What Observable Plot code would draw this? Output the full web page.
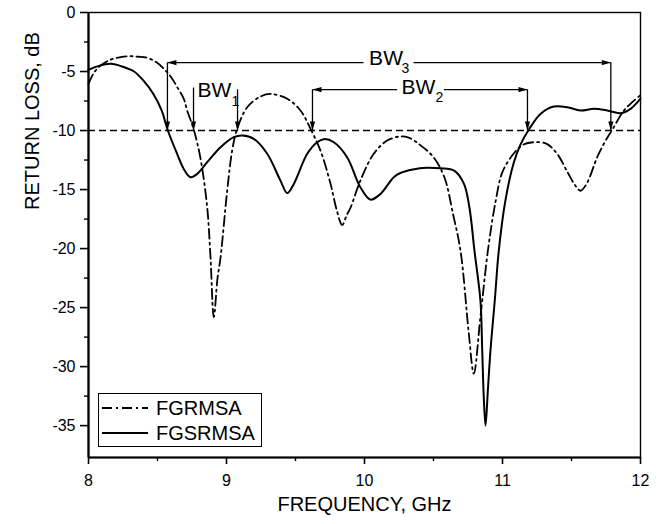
<!DOCTYPE html>
<html><head><meta charset="utf-8">
<script src="https://cdn.jsdelivr.net/npm/d3@7"></script>
<script src="https://cdn.jsdelivr.net/npm/@observablehq/plot@0.6"></script>
<style>
html,body{margin:0;padding:0;background:#fff;}
#wrap{position:relative;width:659px;height:524px;font-family:"Liberation Sans",Arial,sans-serif;}
#legend{position:absolute;left:98px;top:393px;width:162px;height:52px;border:1.3px solid #000;background:#fff;}
.row{position:absolute;left:0;height:24px;display:flex;align-items:center;font-size:20px;color:#000;}
.row svg{margin-left:3px;margin-right:8px;}
</style></head><body><div id="wrap"></div>
<script>
// ---- data ----
const seriesNames = ["FGRMSA", "FGSRMSA"];
const seriesDash = ["10,4,2,4", null];

const fgrmsaX = [8.0, 8.04, 8.087, 8.16, 8.232, 8.30, 8.36, 8.425, 8.49, 8.546, 8.60, 8.643, 8.69, 8.715, 8.762, 8.81, 8.86, 8.884, 8.908, 8.935, 8.957, 9.005, 9.041, 9.077, 9.15, 9.246, 9.319, 9.44, 9.536, 9.609, 9.681, 9.754, 9.80, 9.838, 9.87, 9.90, 9.97, 10.067, 10.164, 10.26, 10.32, 10.40, 10.50, 10.58, 10.64, 10.696, 10.756, 10.792, 10.84, 10.894, 10.95, 11.0, 11.08, 11.15, 11.227, 11.32, 11.396, 11.47, 11.53, 11.565, 11.61, 11.686, 11.74, 11.795, 11.88, 11.94, 12.0];
const fgrmsaY = [-6.04, -5.1, -4.5, -4.0, -3.79, -3.7, -3.75, -3.84, -4.2, -4.77, -5.5, -6.33, -7.3, -8.3, -9.9, -12.26, -16.5, -20.74, -25.8, -22.5, -20.74, -15.1, -11.7, -9.86, -8.03, -7.12, -6.9, -7.31, -8.3, -9.86, -11.7, -14.52, -16.8, -18.0, -17.2, -16.5, -14.24, -11.97, -10.85, -10.5, -10.6, -11.2, -12.26, -14.0, -17.0, -20.2, -27.2, -30.6, -25.8, -20.2, -16.0, -13.5, -11.97, -11.2, -10.99, -11.13, -11.97, -13.5, -14.7, -15.1, -14.5, -12.26, -11.0, -9.94, -8.3, -7.6, -7.0];

const fgsrmsaX = [8.0, 8.08, 8.16, 8.25, 8.33, 8.40, 8.47, 8.53, 8.575, 8.643, 8.69, 8.739, 8.788, 8.86, 8.957, 9.053, 9.114, 9.198, 9.295, 9.391, 9.44, 9.488, 9.585, 9.657, 9.705, 9.778, 9.874, 9.97, 10.043, 10.116, 10.212, 10.26, 10.35, 10.45, 10.55, 10.65, 10.72, 10.76, 10.797, 10.84, 10.853, 10.865, 10.877, 10.894, 10.913, 10.944, 10.973, 11.02, 11.08, 11.13, 11.19, 11.275, 11.372, 11.469, 11.565, 11.662, 11.759, 11.855, 11.928, 12.0];
const fgsrmsaY = [-4.86, -4.5, -4.35, -4.6, -5.0, -5.8, -6.9, -8.3, -10.0, -12.0, -13.25, -13.95, -13.67, -12.68, -11.41, -10.56, -10.42, -10.7, -11.97, -14.24, -15.3, -14.52, -11.97, -10.99, -10.73, -10.99, -12.26, -14.8, -15.85, -15.37, -13.95, -13.6, -13.3, -13.15, -13.2, -13.4, -14.5, -16.5, -20.2, -24.4, -28.6, -32.8, -35.0, -32.0, -28.6, -24.4, -20.2, -16.0, -12.8, -11.2, -9.94, -8.59, -7.97, -8.02, -8.3, -8.16, -8.3, -8.53, -8.16, -7.3];

const xTicks = [8, 9, 10, 11, 12];
const xMinor = [8.5, 9.5, 10.5, 11.5];
const yTicks = [0, -5, -10, -15, -20, -25, -30, -35];
const yMinor = [-2.5, -7.5, -12.5, -17.5, -22.5, -27.5, -32.5];
const xDomain = [8, 12];
const yDomain = [-37.7, 0];
const refLevel = -10;

// bandwidth annotation arrows (head at x2,y2)
const bwArrows = [
  {x1: 9.993, y1: -4.24, x2: 8.572, y2: -4.24},
  {x1: 8.572, y1: -4.24, x2: 8.572, y2: -10},
  {x1: 10.355, y1: -4.24, x2: 11.785, y2: -4.24},
  {x1: 11.785, y1: -4.24, x2: 11.785, y2: -10},
  {x1: 10.237, y1: -6.53, x2: 9.623, y2: -6.53},
  {x1: 9.623, y1: -6.53, x2: 9.623, y2: -10},
  {x1: 10.575, y1: -6.53, x2: 11.181, y2: -6.53},
  {x1: 11.181, y1: -6.53, x2: 11.181, y2: -10},
  {x1: 8.761, y1: -6.36, x2: 8.761, y2: -10},
  {x1: 9.08, y1: -6.5, x2: 9.08, y2: -10}
];
const bwLabels = [
  {x: 10.156, y: -3.9, t: "BW"},
  {x: 10.39, y: -6.3, t: "BW"},
  {x: 8.913, y: -6.6, t: "BW"}
];
const bwSubs = [
  {x: 10.297, y: -4.75, t: "3"},
  {x: 10.543, y: -7.18, t: "2"},
  {x: 9.065, y: -7.53, t: "1"}
];

const fgrmsa = fgrmsaX.map((x, i) => ({x, y: fgrmsaY[i]}));
const fgsrmsa = fgsrmsaX.map((x, i) => ({x, y: fgsrmsaY[i]}));
const heads = bwArrows.map(a => ({
  x: a.x2, y: a.y2,
  rot: a.x2 > a.x1 ? 90 : a.x2 < a.x1 ? -90 : (a.y2 < a.y1 ? 180 : 0)
}));
// narrow filled arrowhead, tip at the origin, pointing up
const arrowHead = {draw(ctx) { ctx.moveTo(0, 0); ctx.lineTo(2.6, 9); ctx.lineTo(-2.6, 9); ctx.closePath(); }};
const fmtY = d => d === 0 ? "0" : "-" + Math.abs(d);

const font = "'Liberation Sans', Arial, sans-serif";
const chart = Plot.plot({
  width: 659, height: 524,
  marginLeft: 88, marginRight: 19, marginTop: 12, marginBottom: 67,
  style: {fontFamily: font, fontSize: "16px", color: "#000", background: "#fff"},
  x: {domain: xDomain},
  y: {domain: yDomain},
  marks: [
    Plot.ruleY([refLevel], {strokeDasharray: "7,4", strokeWidth: 1.5}),
    Plot.line(fgrmsa, {x: "x", y: "y", curve: "catmull-rom", stroke: "#000", strokeWidth: 1.8, strokeDasharray: seriesDash[0]}),
    Plot.line(fgsrmsa, {x: "x", y: "y", curve: "catmull-rom", stroke: "#000", strokeWidth: 2}),
    Plot.link(bwArrows, {x1: "x1", y1: "y1", x2: "x2", y2: "y2", strokeWidth: 1.3, stroke: "#000"}),
    Plot.dot(heads, {x: "x", y: "y", rotate: "rot", symbol: arrowHead, fill: "#000", stroke: "none", r: 3}),
    Plot.text(bwLabels, {x: "x", y: "y", text: "t", fontSize: 21, fill: "#000"}),
    Plot.text(bwSubs, {x: "x", y: "y", text: "t", fontSize: 14, fill: "#000"}),
    Plot.frame({strokeWidth: 1.4}),
    Plot.ruleX([xDomain[0]], {strokeWidth: 2.2}),
    Plot.ruleY([yDomain[0]], {strokeWidth: 2.2}),
    Plot.axisX({ticks: xTicks, tickSize: 7, tickPadding: 10, tickFormat: d => String(d), label: null, strokeWidth: 1.6, fontSize: 16}),
    Plot.axisX({ticks: xMinor, tickSize: 4, tickFormat: () => "", label: null, strokeWidth: 1.4}),
    Plot.axisY({ticks: yTicks, tickSize: 8, tickPadding: 5, tickFormat: fmtY, label: null, strokeWidth: 1.6, fontSize: 16}),
    Plot.axisY({ticks: yMinor, tickSize: 4, tickFormat: () => "", label: null, strokeWidth: 1.4}),
    Plot.text(["FREQUENCY, GHz"], {frameAnchor: "bottom", dy: 53, fontSize: 20, fill: "#000"}),
    Plot.text(["RETURN LOSS, dB"], {frameAnchor: "left", dx: -56, dy: -25, rotate: -90, fontSize: 20, fill: "#000"})
  ]
});
const wrap = document.getElementById("wrap");
wrap.appendChild(chart);

// legend
const leg = document.createElement("div");
leg.id = "legend";
seriesNames.forEach((name, i) => {
  const row = document.createElement("div");
  row.className = "row";
  row.style.top = (2 + i * 25) + "px";
  row.innerHTML = `<svg width="46" height="10"><line x1="0" y1="5" x2="46" y2="5" stroke="#000" stroke-width="${i ? 2 : 1.8}" ${seriesDash[i] ? `stroke-dasharray="${seriesDash[i]}"` : ""}/></svg><span>${name}</span>`;
  leg.appendChild(row);
});
wrap.appendChild(leg);
</script></body></html>
